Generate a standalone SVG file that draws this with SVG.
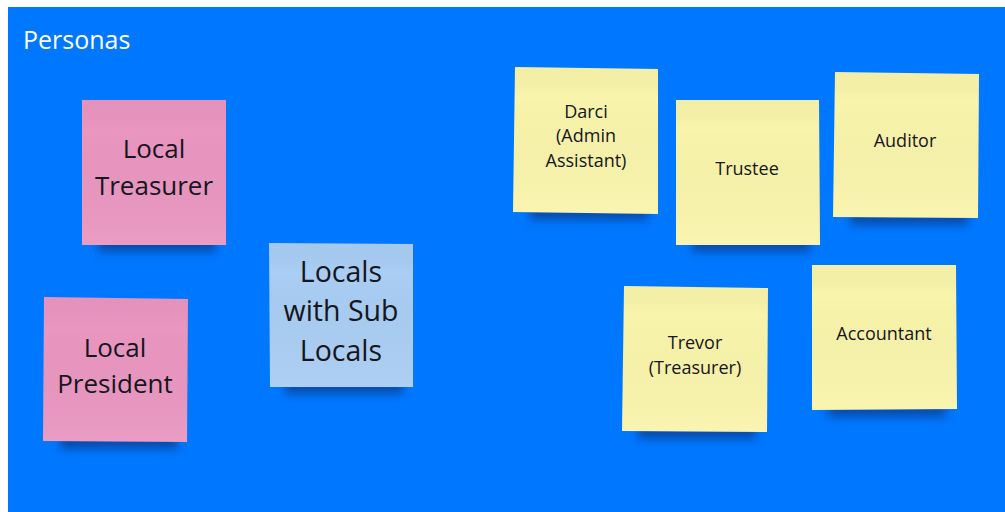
<svg xmlns="http://www.w3.org/2000/svg" width="1005" height="512" viewBox="0 0 1005 512">
<style>
.t{font-family:"Open Sans","Liberation Sans",sans-serif;fill:#16161c;text-anchor:middle}
.big{font-size:26px}
.mid{font-size:28.5px}
.sm{font-size:18px}
.pink{fill:#E996C0}
.blue{fill:#A9CDF3}
.yel{fill:#F9F4AB}
.sh{fill:#0a2a66;opacity:0.55;filter:url(#blur)}
</style>
<defs>
<filter id="blur" x="-20%" y="-100%" width="140%" height="300%"><feGaussianBlur stdDeviation="4"/></filter>
<linearGradient id="topband" x1="0" y1="0" x2="0" y2="1">
<stop offset="0" stop-color="#000" stop-opacity="0.025"/>
<stop offset="0.12" stop-color="#000" stop-opacity="0.02"/>
<stop offset="0.2" stop-color="#000" stop-opacity="0"/>
<stop offset="1" stop-color="#fff" stop-opacity="0.06"/>
</linearGradient>
</defs>
<rect x="0" y="0" width="1005" height="512" fill="#ffffff"/>
<rect x="8" y="7" width="997" height="505" fill="#0077FF"/>
<text x="23" y="49" font-family="'Open Sans','Liberation Sans',sans-serif" font-size="25" fill="#ffffff">Personas</text>

<g id="local-treasurer">
<rect class="sh" x="98" y="238" width="118" height="14"/>
<polygon class="pink" points="82,100 226,100 226,245 82,245"/>
<polygon fill="url(#topband)" points="82,100 226,100 226,245 82,245"/>
<text class="t big" x="154" y="158">Local</text>
<text class="t big" x="154" y="195">Treasurer</text>
</g>

<g id="local-president">
<rect class="sh" x="60" y="435" width="118" height="14"/>
<polygon class="pink" points="44,297 188,299 187,442 43,441"/>
<polygon fill="url(#topband)" points="44,297 188,299 187,442 43,441"/>
<text class="t big" x="115" y="357">Local</text>
<text class="t big" x="115" y="393">President</text>
</g>

<g id="locals-with-sub-locals">
<rect class="sh" x="285" y="380" width="118" height="14"/>
<polygon class="blue" points="269,243 413,244 413,387 270,387"/>
<polygon fill="url(#topband)" points="269,243 413,244 413,387 270,387"/>
<text class="t mid" x="341" y="282">Locals</text>
<text class="t mid" x="341" y="321">with Sub</text>
<text class="t mid" x="341" y="361">Locals</text>
</g>

<g id="darci">
<rect class="sh" x="530" y="206" width="118" height="14"/>
<polygon class="yel" points="515,67 658,69 658,214 513,212"/>
<polygon fill="url(#topband)" points="515,67 658,69 658,214 513,212"/>
<text class="t sm" x="586" y="118">Darci</text>
<text class="t sm" x="586" y="142">(Admin</text>
<text class="t sm" x="586" y="167">Assistant)</text>
</g>

<g id="trustee">
<rect class="sh" x="692" y="238" width="118" height="14"/>
<polygon class="yel" points="676,100 819,100 820,245 676,245"/>
<polygon fill="url(#topband)" points="676,100 819,100 820,245 676,245"/>
<text class="t sm" x="747" y="175">Trustee</text>
</g>

<g id="auditor">
<rect class="sh" x="850" y="211" width="118" height="14"/>
<polygon class="yel" points="835,72 979,74 978,218 833,217"/>
<polygon fill="url(#topband)" points="835,72 979,74 978,218 833,217"/>
<text class="t sm" x="905" y="147">Auditor</text>
</g>

<g id="trevor">
<rect class="sh" x="638" y="425" width="118" height="14"/>
<polygon class="yel" points="624,286 768,288 767,432 622,431"/>
<polygon fill="url(#topband)" points="624,286 768,288 767,432 622,431"/>
<text class="t sm" x="695" y="349">Trevor</text>
<text class="t sm" x="695" y="374">(Treasurer)</text>
</g>

<g id="accountant">
<rect class="sh" x="828" y="403" width="118" height="14"/>
<polygon class="yel" points="812,265 956,265 957,409 812,410"/>
<polygon fill="url(#topband)" points="812,265 956,265 957,409 812,410"/>
<text class="t sm" x="884" y="340">Accountant</text>
</g>

<g id="connectors"></g>
</svg>
